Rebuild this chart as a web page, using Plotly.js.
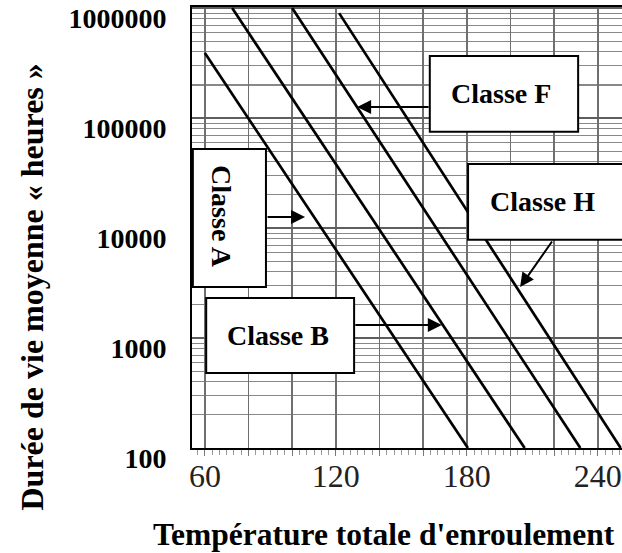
<!DOCTYPE html>
<html>
<head>
<meta charset="utf-8">
<script src="https://cdn.plot.ly/plotly-3.0.1.min.js"></script>
<style>
  html, body { margin: 0; padding: 0; background: #fff; overflow: hidden; }
  #chart { width: 622px; height: 553px; }
</style>
</head>
<body>
<div id="chart"></div>
<script>
// Insulation classes and their life-versus-temperature lines (straight on a log scale)
const classNames = ['Classe A', 'Classe B', 'Classe F', 'Classe H'];
const tempA = [60, 180.5];
const lifeA = [390000, 100];
const tempB = [72.5, 206.5];
const lifeB = [1000000, 100];
const tempF = [100, 232];
const lifeF = [1000000, 100];
const tempH = [121.5, 250.5];
const lifeH = [900000, 100];

// Axis ticks
const xTickVals = [60, 80, 100, 120, 140, 160, 180, 200, 220, 240];
const xTickText = ['60', '', '', '120', '', '', '180', '', '', '240'];
const yTickVals = [100, 1000, 10000, 100000, 1000000];
const yTickText = ['100', '1000', '10000', '100000', '1000000'];

const serif = 'Liberation Serif, Times New Roman, serif';

const series = [
  [tempA, lifeA], [tempB, lifeB], [tempF, lifeF], [tempH, lifeH]
];
const traces = series.map((s, i) => ({
  type: 'scatter', mode: 'lines',
  x: s[0], y: s[1], name: classNames[i],
  line: { color: '#000', width: 2.7 },
  hoverinfo: 'skip'
}));

// Label boxes (paper coordinates)
const boxStyle = { type: 'rect', xref: 'paper', yref: 'paper',
  line: { color: '#000', width: 2 }, fillcolor: '#fff', layer: 'above' };
const shapes = [
  Object.assign({ x0: 0.002, x1: 0.172, y0: 0.365, y1: 0.678 }, boxStyle),
  Object.assign({ x0: 0.033, x1: 0.377, y0: 0.170, y1: 0.340 }, boxStyle),
  Object.assign({ x0: 0.553, x1: 0.898, y0: 0.717, y1: 0.889 }, boxStyle),
  Object.assign({ x0: 0.642, x1: 1.02, y0: 0.472, y1: 0.644 }, boxStyle)
];

const labelFont = { family: serif, size: 28, color: '#000', weight: 'bold' };
function label(text, x, y, angle) {
  return { text: text, xref: 'paper', yref: 'paper', x: x, y: y,
    xanchor: 'center', yanchor: 'middle', showarrow: false,
    textangle: angle || 0, font: labelFont };
}
function arrow(x, y, ax, ay) {
  return { text: '', xref: 'paper', yref: 'paper', x: x, y: y, ax: ax, ay: ay,
    showarrow: true, arrowhead: 2, arrowsize: 1.4, arrowwidth: 2,
    arrowcolor: '#000', standoff: 0, startstandoff: 0 };
}

const annotations = [
  label(classNames[0], 0.067, 0.524, 90),
  label(classNames[1], 0.200, 0.256),
  label(classNames[2], 0.719, 0.804),
  label(classNames[3], 0.816, 0.560),
  arrow(0.263, 0.524, -39, 0),
  arrow(0.581, 0.279, -88, 0),
  arrow(0.384, 0.773, 73, 0),
  arrow(0.763, 0.365, 33, -47),
  // axis titles
  { text: "Température totale d'enroulement", xref: 'paper', yref: 'paper',
    x: -0.095, y: -0.197, xanchor: 'left', yanchor: 'middle', showarrow: false,
    font: { family: serif, size: 31.5, color: '#000', weight: 'bold' } },
  { text: 'Durée de vie moyenne « heures »', xref: 'paper', yref: 'paper',
    x: -0.372, y: 0.364, xanchor: 'center', yanchor: 'middle', showarrow: false,
    textangle: -90,
    font: { family: serif, size: 32, color: '#000', weight: 'bold' } }
];

const layout = {
  width: 622, height: 553,
  margin: { l: 192, r: 0, t: 7, b: 105, pad: 0 },
  paper_bgcolor: '#fff', plot_bgcolor: '#fff',
  showlegend: false,
  xaxis: {
    range: [54.1, 251.1],
    tickmode: 'array', tickvals: xTickVals, ticktext: xTickText,
    ticks: 'outside', ticklen: 6, tickwidth: 1, tickcolor: '#777',
    minor: { tick0: 60, dtick: 10 / 3, ticks: 'outside', ticklen: 5,
             tickwidth: 1, tickcolor: '#999', showgrid: false },
    ticklabelstandoff: -7,
    tickfont: { family: serif, size: 32, color: '#222' },
    showgrid: true, gridcolor: '#6f6f6f', gridwidth: 1.7,
    showline: true, linecolor: '#000', linewidth: 2, mirror: true,
    zeroline: false, fixedrange: true
  },
  yaxis: {
    type: 'log', range: [2, 6.01],
    tickmode: 'array', tickvals: yTickVals, ticktext: yTickText,
    ticks: '', ticklabelstandoff: 18, ticklabelshift: 10,
    tickfont: { family: serif, size: 28, color: '#000', weight: 'bold' },
    showgrid: true, gridcolor: '#5e5e5e', gridwidth: 2.6,
    minor: { dtick: 'D1', showgrid: true, gridcolor: '#888', gridwidth: 1.1, ticks: '' },
    showline: true, linecolor: '#000', linewidth: 2, mirror: false,
    zeroline: false, fixedrange: true
  },
  shapes: shapes,
  annotations: annotations
};

Plotly.newPlot('chart', traces, layout, { displayModeBar: false, staticPlot: true });
</script>
</body>
</html>
